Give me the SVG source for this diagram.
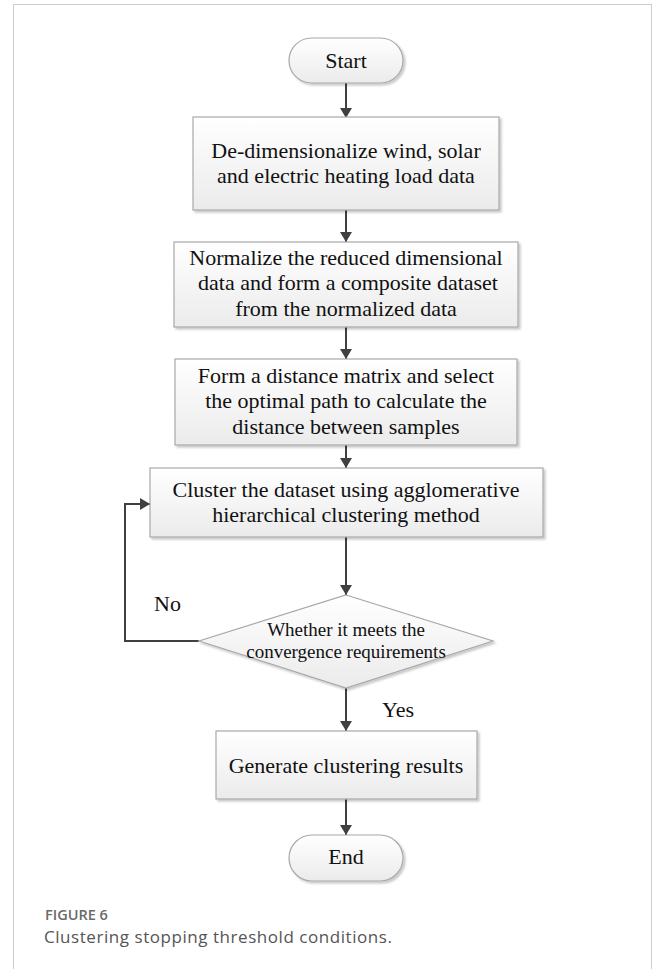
<svg xmlns="http://www.w3.org/2000/svg" width="656" height="969" viewBox="0 0 656 969">
<defs>
<linearGradient id="g" x1="0" y1="0" x2="0" y2="1">
<stop offset="0" stop-color="#ffffff"/>
<stop offset="1" stop-color="#ebebeb"/>
</linearGradient>
<filter id="sh" x="-10%" y="-10%" width="120%" height="130%">
<feDropShadow dx="2" dy="2" stdDeviation="1.2" flood-color="#000" flood-opacity="0.22"/>
</filter>
<marker id="ah" viewBox="0 0 10 12" refX="10" refY="6" markerWidth="10" markerHeight="12" markerUnits="userSpaceOnUse" orient="auto">
<path d="M0,0 L10,6 L0,12 Z" fill="#404040"/>
</marker>
<style>
.shape{fill:url(#g);stroke:#a8a8a8;stroke-width:1.2;filter:url(#sh)}
.t{font-family:"Liberation Serif","Times New Roman",serif;font-size:22px;fill:#111;text-anchor:middle}
.ts{font-family:"Liberation Serif","Times New Roman",serif;font-size:19px;fill:#111;text-anchor:middle}
.lbl{font-family:"Liberation Serif","Times New Roman",serif;font-size:22px;fill:#111}
.c{fill:none;stroke:#404040;stroke-width:2;marker-end:url(#ah)}
</style>
</defs>
<rect x="13.5" y="4.5" width="638" height="990" fill="#fff" stroke="#cccccc" stroke-width="1"/>
<g id="connectors">
<line class="c" x1="346" y1="83" x2="346" y2="118"/>
<line class="c" x1="346" y1="210" x2="346" y2="242"/>
<line class="c" x1="346" y1="327" x2="346" y2="359"/>
<line class="c" x1="346" y1="445" x2="346" y2="468"/>
<line class="c" x1="346" y1="537" x2="346" y2="595"/>
<polyline class="c" points="199,641 125,641 125,504 150,504"/>
<line class="c" x1="346" y1="688" x2="346" y2="731"/>
<line class="c" x1="346" y1="799" x2="346" y2="835"/>
<text class="lbl" x="154" y="611">No</text>
<text class="lbl" x="382" y="717">Yes</text>
</g>
<g id="start">
<rect class="shape" x="289" y="38" width="114" height="45" rx="22.5"/>
<text class="t" x="346" y="68">Start</text>
</g>
<g id="dedim">
<rect class="shape" x="193" y="117" width="306" height="93"/>
<text class="t" x="346" y="158">De-dimensionalize wind, solar</text>
<text class="t" x="346" y="183">and electric heating load data</text>
</g>
<g id="normalize">
<rect class="shape" x="174" y="242" width="344" height="85"/>
<text class="t" x="346" y="265">Normalize the reduced dimensional</text>
<text class="t" x="348" y="290">data and form a composite dataset</text>
<text class="t" x="346" y="316">from the normalized data</text>
</g>
<g id="distance">
<rect class="shape" x="175" y="359" width="342" height="86"/>
<text class="t" x="346" y="383">Form a distance matrix and select</text>
<text class="t" x="346" y="408">the optimal path to calculate the</text>
<text class="t" x="346" y="434">distance between samples</text>
</g>
<g id="cluster">
<rect class="shape" x="150" y="468" width="393" height="69"/>
<text class="t" x="346" y="497">Cluster the dataset using agglomerative</text>
<text class="t" x="346" y="522">hierarchical clustering method</text>
</g>
<g id="decision">
<polygon class="shape" points="346,595 493,641 346,688 199,641"/>
<text class="ts" x="346" y="636">Whether it meets the</text>
<text class="ts" x="346" y="658">convergence requirements</text>
</g>
<g id="generate">
<rect class="shape" x="216" y="731" width="261" height="68"/>
<text class="t" x="346" y="773">Generate clustering results</text>
</g>
<g id="end">
<rect class="shape" x="289" y="835" width="114" height="46" rx="23"/>
<text class="t" x="346" y="864">End</text>
</g>
<g id="caption">
<text x="45" y="920" font-family="'Open Sans','Noto Sans',sans-serif" font-size="14.5" font-weight="600" fill="#6a6a6a">FIGURE 6</text>
<text x="44" y="943" font-family="'Open Sans','Noto Sans',sans-serif" font-size="17" letter-spacing="0.55" fill="#555">Clustering stopping threshold conditions.</text>
</g>
</svg>
